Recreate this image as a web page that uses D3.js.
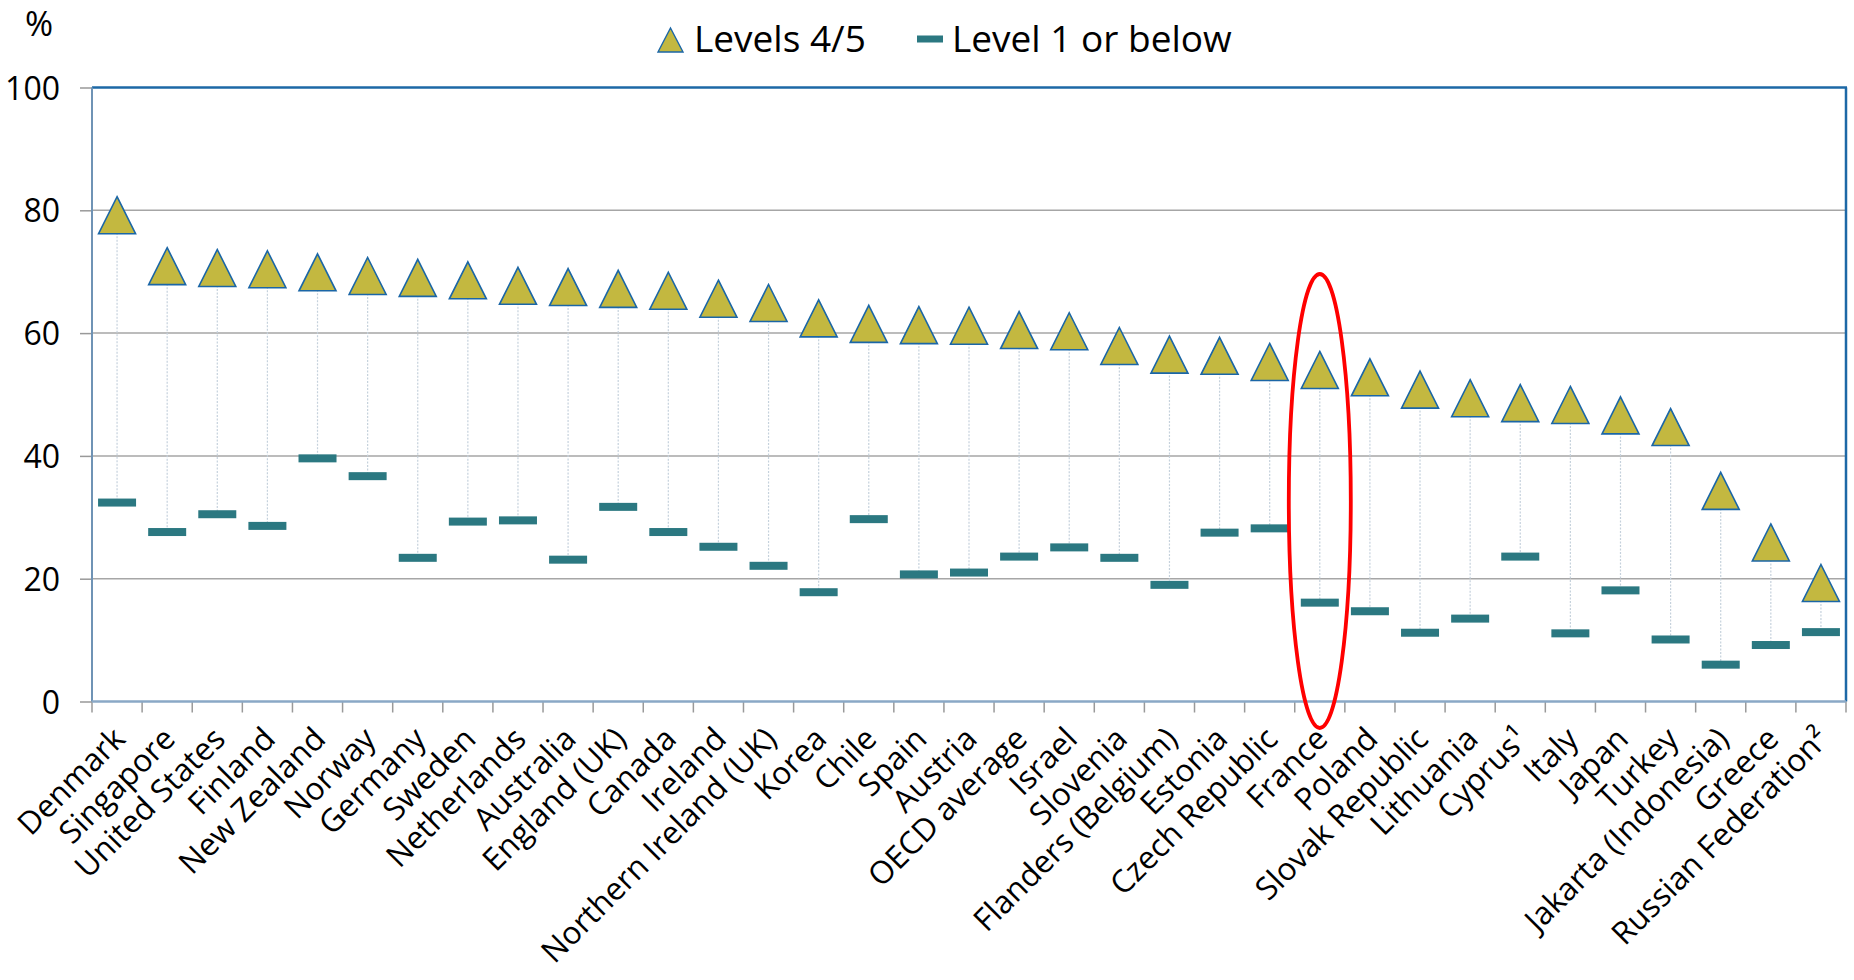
<!DOCTYPE html>
<html>
<head>
<meta charset="utf-8">
<script src="https://cdn.jsdelivr.net/npm/d3@7"></script>
<style>
  html, body { margin: 0; padding: 0; background: #fff; }
  svg { display: block; font-family: "Open Sans", "Noto Sans", sans-serif; }
</style>
</head>
<body>
<svg id="chart" width="1854" height="980"></svg>
<script>
const categories = ["Denmark","Singapore","United States","Finland","New Zealand","Norway","Germany","Sweden","Netherlands","Australia","England (UK)","Canada","Ireland","Northern Ireland (UK)","Korea","Chile","Spain","Austria","OECD average","Israel","Slovenia","Flanders (Belgium)","Estonia","Czech Republic","France","Poland","Slovak Republic","Lithuania","Cyprus¹","Italy","Japan","Turkey","Jakarta (Indonesia)","Greece","Russian Federation²"];
const levels45 = [79.2,70.9,70.6,70.4,69.9,69.3,69.0,68.6,67.7,67.5,67.2,66.9,65.6,64.9,62.4,61.5,61.3,61.2,60.5,60.3,57.9,56.5,56.3,55.3,54.0,52.8,50.8,49.4,48.6,48.3,46.6,44.7,34.3,25.9,19.3];
const level1 = [32.4,27.6,30.5,28.6,39.6,36.7,23.4,29.3,29.5,23.1,31.7,27.6,25.2,22.1,17.8,29.7,20.7,21.0,23.6,25.1,23.4,19.0,27.5,28.2,16.1,14.7,11.2,13.5,23.6,11.1,18.1,10.1,6.0,9.2,11.3];
const yTicks = [0,20,40,60,80,100];
const seriesNames = ["Levels 4/5","Level 1 or below"];
const highlight = "France";

const svg = d3.select("#chart");
const L = 92, R = 1846, T = 87.5, B = 701.5;

const x = d3.scaleBand().domain(categories).range([L, R]).padding(0);
const y = d3.scaleLinear().domain([0, 100]).range([B, T]);

const triFill = "#C3B840", triStroke = "#1B66A6", dashFill = "#2B7881";

// gridlines
svg.append("g").selectAll("line").data(yTicks.filter(d => d > 0 && d < 100)).join("line")
  .attr("x1", L).attr("x2", R).attr("y1", d => y(d)).attr("y2", d => y(d))
  .attr("stroke", "#a6a6a6").attr("stroke-width", 1.5);

// y axis
const yAxis = svg.append("g").attr("transform", `translate(${L},0)`)
  .call(d3.axisLeft(y).tickValues(yTicks).tickSize(12).tickPadding(20));
yAxis.select(".domain").remove();
yAxis.selectAll(".tick line").attr("stroke", "#999").attr("stroke-width", 1.5);
yAxis.selectAll(".tick text").attr("font-size", 32).attr("fill", "#000")
  .attr("font-family", "Open Sans").attr("dy", "0.36em");

// x axis ticks (at band boundaries)
const boundaries = categories.map(c => x(c)).concat([R]);
svg.append("g").selectAll("line").data(boundaries).join("line")
  .attr("x1", d => d).attr("x2", d => d).attr("y1", B).attr("y2", B + 11)
  .attr("stroke", "#999").attr("stroke-width", 1.5);

// plot border
svg.append("line").attr("x1", L).attr("x2", R + 1).attr("y1", T).attr("y2", T)
  .attr("stroke", "#1D68A6").attr("stroke-width", 2.5);
svg.append("line").attr("x1", R).attr("x2", R).attr("y1", T).attr("y2", B)
  .attr("stroke", "#1D68A6").attr("stroke-width", 2.5);
svg.append("line").attr("x1", L).attr("x2", L).attr("y1", T).attr("y2", B)
  .attr("stroke", "#6F93B5").attr("stroke-width", 2);
svg.append("line").attr("x1", L).attr("x2", R).attr("y1", B).attr("y2", B)
  .attr("stroke", "#8AA8C6").attr("stroke-width", 2.5);

// x labels
svg.append("g").selectAll("text").data(categories).join("text")
  .attr("transform", d => `translate(${x(d) + x.bandwidth() / 2 + 2},733) rotate(-45)`)
  .attr("text-anchor", "end").attr("dy", "0.35em")
  .attr("font-size", 31.5).attr("fill", "#000")
  .text(d => d);

const cx = d => x(d) + x.bandwidth() / 2;

// drop lines
svg.append("g").selectAll("line").data(categories).join("line")
  .attr("x1", d => cx(d)).attr("x2", d => cx(d))
  .attr("y1", (d, i) => y(levels45[i])).attr("y2", (d, i) => y(level1[i]))
  .attr("stroke", "#C5D1DC").attr("stroke-width", 1.2).attr("stroke-dasharray", "2,1.5");

// dashes
const dw = 38, dh = 8;
svg.append("g").selectAll("rect").data(categories).join("rect")
  .attr("x", d => cx(d) - dw / 2).attr("y", (d, i) => y(level1[i]) - dh / 2)
  .attr("width", dw).attr("height", dh).attr("fill", dashFill);

// triangles
const tw = 37, th = 37;
const triPath = (px, py, w, h) => `M${px},${py - h / 2}L${px + w / 2},${py + h / 2}L${px - w / 2},${py + h / 2}Z`;
svg.append("g").selectAll("path").data(categories).join("path")
  .attr("d", (d, i) => triPath(cx(d), y(levels45[i]), tw, th))
  .attr("fill", triFill).attr("stroke", triStroke).attr("stroke-width", 1.6)
  .attr("stroke-linejoin", "miter");

// highlight ellipse
svg.append("ellipse").attr("cx", cx(highlight)).attr("cy", 501)
  .attr("rx", 31).attr("ry", 227)
  .attr("fill", "none").attr("stroke", "#FF0000").attr("stroke-width", 3.8);

// % label
svg.append("text").attr("x", 39).attr("y", 36).attr("text-anchor", "middle")
  .attr("font-size", 34).attr("fill", "#000").text("%");

// legend
const lg = svg.append("g");
lg.append("path").attr("d", triPath(670.5, 40, 25, 24))
  .attr("fill", triFill).attr("stroke", triStroke).attr("stroke-width", 1.4);
lg.append("text").attr("x", 694).attr("y", 52).attr("font-size", 37).attr("fill", "#000").text(seriesNames[0]);
lg.append("rect").attr("x", 917).attr("y", 35.5).attr("width", 26).attr("height", 7).attr("fill", dashFill);
lg.append("text").attr("x", 952).attr("y", 52).attr("font-size", 37).attr("fill", "#000").text(seriesNames[1]);
</script>
</body>
</html>
